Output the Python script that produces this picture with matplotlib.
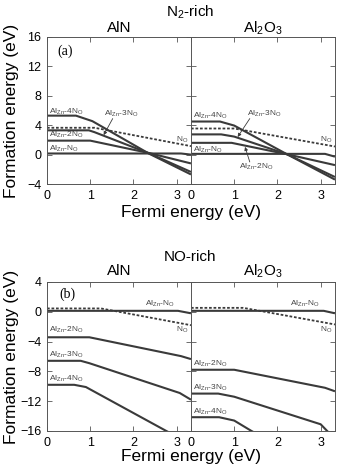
import matplotlib
matplotlib.use("Agg")
import matplotlib.pyplot as plt

plt.rcParams['font.family'] = ['Liberation Sans', 'DejaVu Sans']
plt.rcParams['mathtext.fontset'] = 'custom'
plt.rcParams['mathtext.rm'] = 'Liberation Sans'
plt.rcParams['mathtext.it'] = 'Liberation Sans'
plt.rcParams['mathtext.default'] = 'rm'

EG = 3.33
LINE_C = '#3a3a3a'
TEXT_C = '#444444'

# ---- N2-rich, AlN ----
a_aln_no_x = [0, 1.1, EG];            a_aln_no_y = [3.65, 3.65, 1.15]
a_aln_1_x = [0, 3.1, EG];             a_aln_1_y = [0.15, 0.15, 0.0]
a_aln_2_x = [0, 1.0, 2.37, EG];       a_aln_2_y = [1.9, 1.9, 0.2, -1.2]
a_aln_3_x = [0, 0.97, 1.1, 2.37, EG]; a_aln_3_y = [3.3, 3.3, 3.05, 0.15, -2.36]
a_aln_4_x = [0, 0.67, 1.05, 2.37, EG]; a_aln_4_y = [5.3, 5.3, 4.55, 0.1, -2.7]

# ---- N2-rich, Al2O3 ----
a_alo_no_x = [0, 1.0, EG];            a_alo_no_y = [3.55, 3.55, 1.1]
a_alo_1_x = [0, 3.1, EG];             a_alo_1_y = [0.1, 0.1, -0.28]
a_alo_2_x = [0, 0.94, 2.22, EG];      a_alo_2_y = [1.6, 1.6, 0.05, -1.43]
a_alo_3_x = [0, 0.7, 1.0, 2.22, EG];  a_alo_3_y = [2.75, 2.75, 2.45, 0.05, -3.05]
a_alo_4_x = [0, 0.67, 1.0, 2.22, EG]; a_alo_4_y = [4.5, 4.5, 3.95, 0.05, -3.4]

# ---- NO-rich, AlN ----
b_aln_no_x = [0, 1.25, EG];           b_aln_no_y = [0.45, 0.45, -1.8]
b_aln_1_x = [0, 3.03, EG];            b_aln_1_y = [0.13, 0.13, -0.2]
b_aln_2_x = [0, 0.98, 3.1, EG];       b_aln_2_y = [-3.42, -3.42, -5.95, -6.35]
b_aln_3_x = [0, 0.78, 0.98, 3.07, EG]; b_aln_3_y = [-6.58, -6.58, -6.9, -10.9, -11.8]
b_aln_4_x = [0, 0.63, 0.9, 2.76, EG]; b_aln_4_y = [-9.8, -9.8, -10.1, -16.0, -17.7]

# ---- NO-rich, Al2O3 ----
b_alo_no_x = [0, 1.21, EG];           b_alo_no_y = [0.53, 0.53, -1.7]
b_alo_1_x = [0, 3.07, EG];            b_alo_1_y = [0.13, 0.13, -0.2]
b_alo_2_x = [0, 1.0, 3.1, EG];        b_alo_2_y = [-7.78, -7.78, -10.2, -10.67]
b_alo_3_x = [0, 0.63, 1.0, 3.0, 3.15, EG]; b_alo_3_y = [-10.98, -10.98, -11.4, -15.1, -16.0, -17.0]
b_alo_4_x = [0, 0.65, 1.0, 1.4, EG];  b_alo_4_y = [-14.15, -14.15, -14.6, -16.0, -22.0]

lbl1 = 'Al$_{Zn}$-N$_O$'
lbl2 = 'Al$_{Zn}$-2N$_O$'
lbl3 = 'Al$_{Zn}$-3N$_O$'
lbl4 = 'Al$_{Zn}$-4N$_O$'
lblN = 'N$_O$'

fig = plt.figure(figsize=(3.38, 4.70), dpi=100)

L, W = 0.139, 0.426
top_b, top_h = 0.6085, 0.3128
bot_b, bot_h = 0.083, 0.317

axes = {
    'a_aln': fig.add_axes([L, top_b, W, top_h]),
    'a_alo': fig.add_axes([L + W, top_b, W, top_h]),
    'b_aln': fig.add_axes([L, bot_b, W, bot_h]),
    'b_alo': fig.add_axes([L + W, bot_b, W, bot_h]),
}

def draw(ax, nox, noy, lines):
    for x, y in lines:
        ax.plot(x, y, color=LINE_C, lw=1.5, solid_capstyle='butt')
    ax.plot(nox, noy, color=LINE_C, lw=1.3, linestyle=(0, (1.5, 1.0)))

draw(axes['a_aln'], a_aln_no_x, a_aln_no_y,
     [(a_aln_1_x, a_aln_1_y), (a_aln_2_x, a_aln_2_y), (a_aln_3_x, a_aln_3_y), (a_aln_4_x, a_aln_4_y)])
draw(axes['a_alo'], a_alo_no_x, a_alo_no_y,
     [(a_alo_1_x, a_alo_1_y), (a_alo_2_x, a_alo_2_y), (a_alo_3_x, a_alo_3_y), (a_alo_4_x, a_alo_4_y)])
draw(axes['b_aln'], b_aln_no_x, b_aln_no_y,
     [(b_aln_1_x, b_aln_1_y), (b_aln_2_x, b_aln_2_y), (b_aln_3_x, b_aln_3_y), (b_aln_4_x, b_aln_4_y)])
draw(axes['b_alo'], b_alo_no_x, b_alo_no_y,
     [(b_alo_1_x, b_alo_1_y), (b_alo_2_x, b_alo_2_y), (b_alo_3_x, b_alo_3_y), (b_alo_4_x, b_alo_4_y)])

for key, ax in axes.items():
    ax.set_xlim(0, EG)
    ax.set_xticks([0, 1, 2, 3])
    if key.startswith('a'):
        ax.set_ylim(-4, 16)
        ax.set_yticks([-4, 0, 4, 8, 12, 16])
    else:
        ax.set_ylim(-16, 4)
        ax.set_yticks([-16, -12, -8, -4, 0, 4])
    ax.tick_params(direction='in', top=True, right=True, length=3.5, width=0.6,
                   color='#555555', labelsize=9, pad=4)
    for s in ax.spines.values():
        s.set_linewidth(0.7)
        s.set_color('#555555')
    if key.endswith('alo'):
        ax.set_yticklabels([])

fs = 6
def put(ax, items):
    for txt, x, y, ha in items:
        ax.text(x, y, txt, fontsize=fs, color=TEXT_C, ha=ha, va='center')

put(axes['a_aln'], [(lbl4, 0.04, 5.75, 'left'), (lbl3, 1.31, 5.6, 'left'),
                    (lbl2, 0.04, 2.7, 'left'), (lbl1, 0.04, 0.75, 'left'),
                    (lblN, 3.28, 2.0, 'right')])
put(axes['a_alo'], [(lbl4, 0.04, 5.3, 'left'), (lbl3, 1.3, 5.6, 'left'),
                    (lbl1, 0.04, 0.65, 'left'), (lbl2, 1.1, -1.65, 'left'),
                    (lblN, 3.28, 2.0, 'right')])
put(axes['b_aln'], [(lbl1, 2.26, 1.1, 'left'), (lblN, 3.28, -2.45, 'right'),
                    (lbl2, 0.04, -2.45, 'left'), (lbl3, 0.04, -5.8, 'left'),
                    (lbl4, 0.04, -9.0, 'left')])
put(axes['b_alo'], [(lbl1, 2.3, 1.1, 'left'), (lblN, 3.28, -2.45, 'right'),
                    (lbl2, 0.04, -7.0, 'left'), (lbl3, 0.04, -10.2, 'left'),
                    (lbl4, 0.04, -13.5, 'left')])

arr = dict(arrowstyle='-|>', lw=0.6, color=LINE_C, mutation_scale=5, shrinkA=0, shrinkB=0)
axes['a_aln'].annotate('', xy=(1.31, 2.65), xytext=(1.52, 4.9), arrowprops=arr)
axes['a_alo'].annotate('', xy=(1.08, 2.4), xytext=(1.36, 4.9), arrowprops=arr)
axes['a_alo'].annotate('', xy=(1.25, 1.05), xytext=(1.36, -1.0), arrowprops=arr)

axes['a_aln'].text(0.23, 14.0, '(a)', fontsize=10, family='Liberation Serif', va='center')
axes['b_aln'].text(0.28, 2.35, '(b)', fontsize=10, family='Liberation Serif', va='center')

# titles
fig.text(0.5625, 1 - 12 / 470, 'N$_2$-rich', fontsize=11, ha='center', va='center')
fig.text(L + W / 2, 1 - 28 / 470, 'AlN', fontsize=11, ha='center', va='center')
fig.text(L + 1.5 * W, 1 - 28 / 470, 'Al$_2$O$_3$', fontsize=11, ha='center', va='center')
fig.text(0.5625, 1 - 257 / 470, 'NO-rich', fontsize=11, ha='center', va='center')
fig.text(L + W / 2, 1 - 271 / 470, 'AlN', fontsize=11, ha='center', va='center')
fig.text(L + 1.5 * W, 1 - 271 / 470, 'Al$_2$O$_3$', fontsize=11, ha='center', va='center')

# axis labels
fig.text(0.034, top_b + top_h / 2, 'Formation energy (eV)', fontsize=12.5, rotation=90,
         ha='center', va='center')
fig.text(0.034, bot_b + bot_h / 2, 'Formation energy (eV)', fontsize=12.5, rotation=90,
         ha='center', va='center')
fig.text(0.565, 1 - 213 / 470, 'Fermi energy (eV)', fontsize=12.5, ha='center', va='center')
fig.text(0.565, 1 - 457 / 470, 'Fermi energy (eV)', fontsize=12.5, ha='center', va='center')

fig.savefig('out.png', dpi=100)
